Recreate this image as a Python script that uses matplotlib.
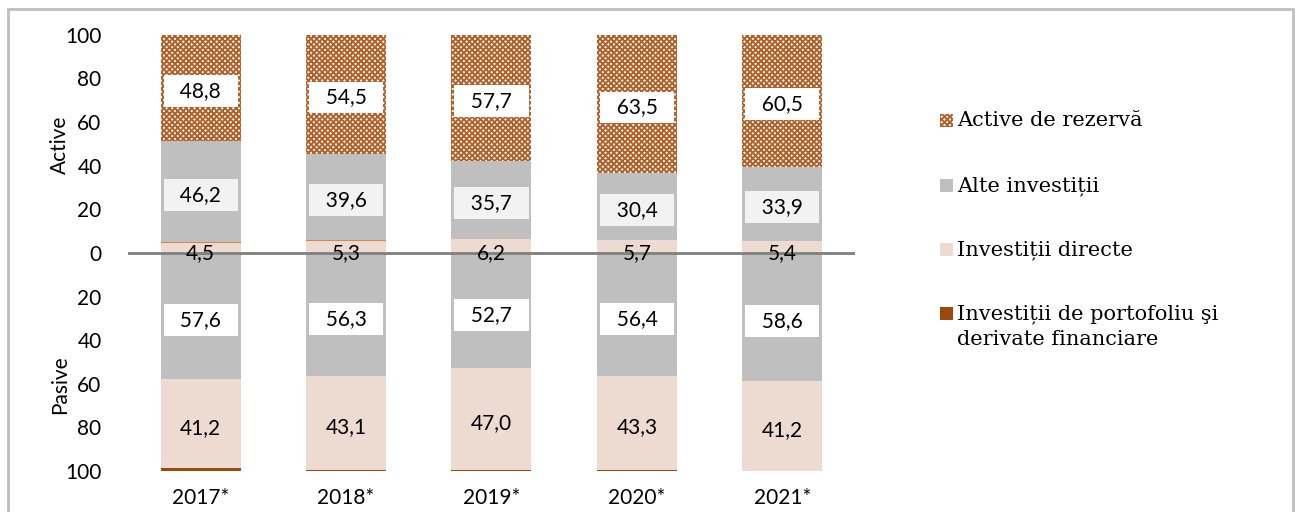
import matplotlib
matplotlib.use("Agg")
import matplotlib.pyplot as plt
from matplotlib.patches import Rectangle
import numpy as np

years = ["2017*", "2018*", "2019*", "2020*", "2021*"]

# Active (upwards)
act_direct = [4.5, 5.3, 6.2, 5.7, 5.4]
act_portf = [0.5, 0.6, 0.4, 0.4, 0.2]
act_other = [46.2, 39.6, 35.7, 30.4, 33.9]
act_reserve = [48.8, 54.5, 57.7, 63.5, 60.5]

# Pasive (downwards)
pas_other = [57.6, 56.3, 52.7, 56.4, 58.6]
pas_direct = [41.2, 43.1, 47.0, 43.3, 41.2]
pas_portf = [1.2, 0.6, 0.3, 0.3, 0.2]

leg_labels = ["Active de rezervă", "Alte investiții", "Investiții directe",
              "Investiții de portofoliu şi\nderivate financiare"]

c_gray = "#BFBFBF"
c_pink = "#EDDAD0"
c_brown = "#9C4A0C"
c_hatch = "#B0622A"

plt.rcParams["hatch.linewidth"] = 1.4
tick_font = ["Lato", "DejaVu Sans"]
leg_font = ["DejaVu Serif"]

fig = plt.figure(figsize=(12.99, 5.12), dpi=100)
ax = fig.add_axes([0.0985, 0.080, 0.5597, 0.852])

x = np.arange(len(years))
w = 0.55

a_direct = np.array(act_direct)
a_portf = np.array(act_portf)
a_other = np.array(act_other)
a_res = np.array(act_reserve)
p_other = np.array(pas_other)
p_direct = np.array(pas_direct)
p_portf = np.array(pas_portf)

ax.bar(x, a_direct, w, color=c_pink)
ax.bar(x, a_portf, w, bottom=a_direct, color="#D9864E")
ax.bar(x, a_other, w, bottom=a_direct + a_portf, color=c_gray)
ax.bar(x, a_res, w, bottom=a_direct + a_portf + a_other, color="white",
       edgecolor=c_hatch, hatch="xxxxxx", linewidth=0)

ax.bar(x, -p_other, w, color=c_gray)
ax.bar(x, -p_direct, w, bottom=-p_other, color=c_pink)
ax.bar(x, -p_portf, w, bottom=-p_other - p_direct, color=c_brown)

ax.axhline(0, color="#7F7F7F", lw=2, xmin=0, xmax=1)

def lab(xx, yy, v, fc=None):
    s = f"{v:.1f}".replace(".", ",")
    kw = dict(ha="center", va="center", fontsize=15, family=tick_font, color="black")
    if fc is not None:
        s = "  " + s + "  "
        kw["bbox"] = dict(boxstyle="square,pad=0.28", fc=fc, ec="none")
    ax.text(xx, yy, s, **kw)

for i in range(len(years)):
    base = a_direct[i] + a_portf[i]
    lab(x[i], 0, a_direct[i])
    lab(x[i], base + a_other[i] / 2 - 1.5, a_other[i], "#F2F2F2")
    lab(x[i], base + a_other[i] + a_res[i] / 2 - 1.5, a_res[i], "white")
    lab(x[i], -p_other[i] / 2 - 2, p_other[i], "white")
    lab(x[i], -p_other[i] - p_direct[i] / 2 - 2, p_direct[i])

ax.set_xlim(-0.5, 4.5)
ax.set_ylim(-100, 100)
ax.set_yticks(np.arange(-100, 101, 20))
ax.set_yticklabels([str(abs(v)) for v in range(-100, 101, 20)], family=tick_font, fontsize=15)
ax.set_xticks(x)
ax.set_xticklabels(years, family=tick_font, fontsize=15)
ax.tick_params(axis="y", length=0, pad=19)
ax.tick_params(axis="x", length=0, pad=12)
for s in ax.spines.values():
    s.set_visible(False)

fig.text(0.046, 0.717, "Active", rotation=90, ha="center", va="center",
         family=tick_font, fontsize=15)
fig.text(0.046, 0.248, "Pasive", rotation=90, ha="center", va="center",
         family=tick_font, fontsize=15)

# legend drawn by hand so the marker sits on the first text line
leg_styles = [
    dict(facecolor="white", edgecolor=c_hatch, hatch="xxxxxx", linewidth=0),
    dict(facecolor=c_gray, edgecolor="none"),
    dict(facecolor=c_pink, edgecolor="none"),
    dict(facecolor=c_brown, edgecolor="none"),
]
W, H = 1299, 512
leg_y = [120, 185, 249, 313]
for yy, st, txt in zip(leg_y, leg_styles, leg_labels):
    fig.patches.append(Rectangle((940 / W, 1 - (yy + 7) / H), 13 / W, 13 / H,
                                 transform=fig.transFigure, **st))
    fig.text(957 / W, 1 - (yy - 9) / H, txt, ha="left", va="top",
             family=leg_font, fontsize=15, linespacing=1.4)

# outer frame
fig.patches.append(Rectangle((8 / W, -0.05), 1285 / W, 1.032, transform=fig.transFigure,
                             fill=False, ec="#BFBFBF", lw=2))

fig.savefig("out.png", dpi=100)
